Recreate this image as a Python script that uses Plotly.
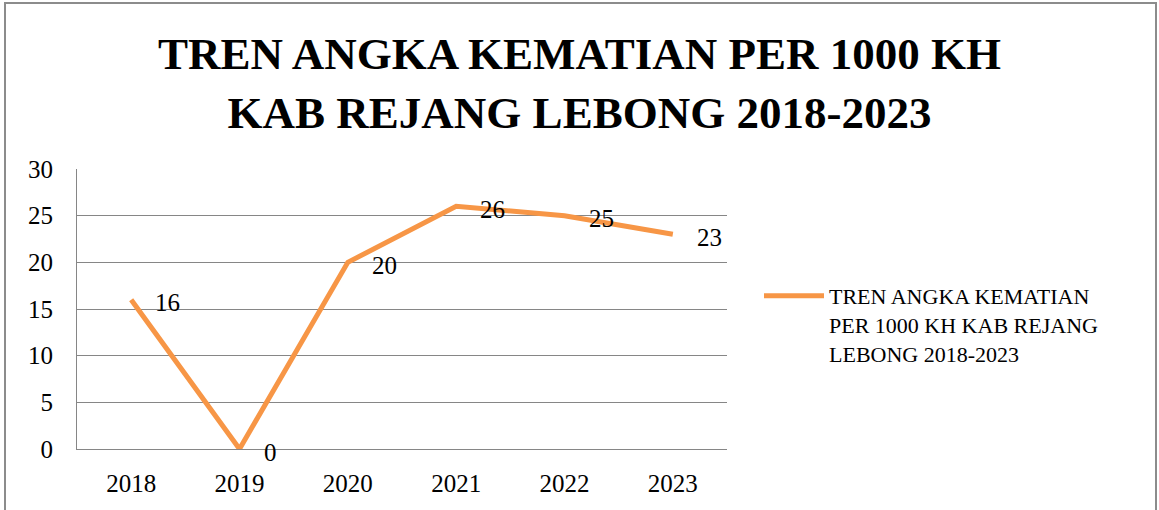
import plotly.graph_objects as go

years = ["2018", "2019", "2020", "2021", "2022", "2023"]
values = [16, 0, 20, 26, 25, 23]
series_name = "TREN ANGKA KEMATIAN<br>PER 1000 KH KAB REJANG<br>LEBONG 2018-2023"
title_text = "TREN ANGKA KEMATIAN PER 1000 KH<br>KAB REJANG LEBONG 2018-2023"
y_ticks = [0, 5, 10, 15, 20, 25, 30]

SERIF = "Liberation Serif, DejaVu Serif, serif"

fig = go.Figure()
fig.add_trace(go.Scatter(
    x=years, y=values, mode="lines", name=series_name,
    line=dict(color="#F79646", width=5), showlegend=True,
))

for i, yv in enumerate(values):
    fig.add_annotation(x=i, y=yv, xref="x", yref="y", text=str(yv), showarrow=False,
                       xanchor="left", yanchor="middle", xshift=22, yshift=-3,
                       font=dict(family=SERIF, size=25, color="#000000"))

L, R, T, B = 77, 432, 169, 61
W, H = 1159, 510
pw, ph = W - L - R, H - T - B
def px(x): return (x - L) / pw
def py(y): return (H - B - y) / ph

fig.add_shape(type="rect", xref="paper", yref="paper",
              x0=px(5), x1=px(1156), y0=py(520), y1=py(3),
              line=dict(color="#8C8C8C", width=2), layer="below")

fig.update_layout(
    width=W, height=H,
    margin=dict(l=L, r=R, t=T, b=B, pad=0, autoexpand=False),
    paper_bgcolor="white", plot_bgcolor="white",
    title=dict(text=title_text, x=0.5, xanchor="center", xref="container",
               y=1 - 69 / H, yanchor="middle", yref="container",
               font=dict(family=SERIF, size=45, color="#000000", weight="bold")),
    showlegend=True,
    legend=dict(x=px(759), xanchor="left", y=py(275), yanchor="top",
                valign="top", itemwidth=60, tracegroupgap=0,
                font=dict(family=SERIF, size=22, color="#000000"),
                bgcolor="rgba(0,0,0,0)"),
    xaxis=dict(type="category", range=[-0.5, 5.5], showgrid=False, zeroline=False,
               showline=True, linecolor="#868686", linewidth=1,
               ticks="", ticklabelstandoff=12, automargin=False,
               tickfont=dict(family=SERIF, size=25, color="#000000"),
               fixedrange=True),
    yaxis=dict(range=[0, 30], tickvals=y_ticks, showgrid=True,
               gridcolor="#868686", gridwidth=1, zeroline=False,
               showline=True, linecolor="#868686", linewidth=1,
               ticks="", ticklabelstandoff=18, automargin=False,
               tickfont=dict(family=SERIF, size=25, color="#000000"),
               fixedrange=True),
)
fig.write_html("out.html", config={"displayModeBar": False},
               post_script="document.body.style.margin='0';document.body.style.padding='0';")
